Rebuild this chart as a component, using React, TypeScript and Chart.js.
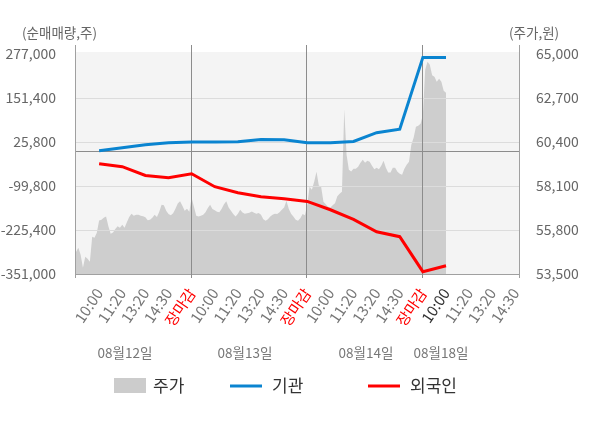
import React, { useEffect, useRef } from 'react';
import { Chart, registerables } from 'chart.js';

Chart.register(...registerables);

// ---- data ----
const sessionLabels = ['10:00', '11:20', '13:20', '14:30'];
const closeLabel = '장마감';
const dayLabels = ['08월12일', '08월13일', '08월14일', '08월18일'];
const leftTicks = [-351000, -225400, -99800, 25800, 151400, 277000];
const rightTicks = [53500, 55800, 58100, 60400, 62700, 65000];

// 기관 / 외국인 cumulative net volume, one value per x label (10:00 day1 ... 10:00 day4)
const institution = [1000, 9500, 18100, 23800, 25800, 26000, 26600, 33200, 32400, 23800, 23800, 27500, 52300, 62300, 267300, 267300];
const foreign = [-36100, -44700, -69900, -75900, -64700, -101800, -118900, -130300, -136000, -143800, -167600, -195000, -230300, -244500, -344400, -327300];

// 주가, sampled ten times per label step
const price = [
  54650, 54875, 54510, 53830, 54400, 54300, 54140, 55450, 55400, 55660,
  56300, 56340, 56440, 56500, 55990, 55610, 55670, 55850, 55990, 55920,
  56080, 55920, 56200, 56480, 56650, 56550, 56600, 56600, 56550, 56520,
  56470, 56310, 56340, 56440, 56600, 56480, 56760, 57120, 57100, 56810,
  56630, 56570, 56680, 56910, 57180, 57300, 57070, 56810, 56910, 56760,
  57490, 57020, 56550, 56500, 56550, 56600, 56730, 56950, 57120, 56900,
  56830, 56760, 56730, 56910, 57150, 57300, 56970, 56810, 56630, 56500,
  56650, 56860, 56720, 56650, 56670, 56700, 56770, 56700, 56650, 56690,
  56600, 56360, 56290, 56360, 56510, 56600, 56650, 56630, 56730, 56860,
  56970, 57330, 56910, 56650, 56500, 56340, 56290, 56420, 56630, 56570,
  57120, 58060, 57910, 58320, 58850, 58120, 58060, 57280, 57150, 57020,
  56970, 57100, 57200, 57570, 57700, 57800, 62100, 59740, 58950, 58860,
  59000, 59000, 59110, 59320, 59470, 59320, 59420, 59370, 59160, 58980,
  59060, 58980, 59160, 59420, 59060, 58800, 58800, 59060, 59060, 58850,
  58740, 58690, 59000, 59210, 59370, 60260, 60620, 61200, 61250, 61360,
  61830, 64180, 64600, 64440, 63890, 63810, 63550, 63710, 63550, 63080,
  62980,
];

const xTickLabels = [
  ...sessionLabels, closeLabel,
  ...sessionLabels, closeLabel,
  ...sessionLabels, closeLabel,
  ...sessionLabels,
];

const FONT = "'Noto Sans CJK KR', 'Noto Sans', sans-serif";
const fmt = (v: number) => Math.round(v).toLocaleString('en-US');

const decor = {
  id: 'decor',
  beforeDraw(chart: any) {
    const { ctx, chartArea: a } = chart;
    ctx.save();
    ctx.fillStyle = '#f4f4f4';
    ctx.fillRect(a.left, a.top - 2, a.right - a.left, a.bottom - a.top + 2);
    ctx.restore();
  },
  afterDatasetDraw(chart: any, args: any) {
    if (args.index !== 0) return;
    const { ctx, chartArea: a, scales } = chart;
    const y = scales.y;
    const x = scales.x;
    ctx.save();
    ctx.lineWidth = 1;
    ctx.strokeStyle = '#dcdcdc';
    leftTicks.slice(1, -1).forEach((t) => {
      const py = Math.round(y.getPixelForValue(t)) + 0.5;
      ctx.beginPath();
      ctx.moveTo(a.left, py);
      ctx.lineTo(a.right, py);
      ctx.stroke();
    });
    ctx.strokeStyle = '#8c8c8c';
    const zy = Math.round(y.getPixelForValue(0)) + 0.5;
    ctx.beginPath();
    ctx.moveTo(a.left, zy);
    ctx.lineTo(a.right, zy);
    ctx.stroke();
    ctx.strokeStyle = '#a0a0a0';
    const by = Math.round(a.bottom) + 0.5;
    ctx.beginPath();
    ctx.moveTo(a.left, by);
    ctx.lineTo(a.right, by);
    ctx.stroke();
    const bounds = [x.min, 5, 10, 15, x.max];
    bounds.forEach((v, i) => {
      const px = Math.round(x.getPixelForValue(v)) - 0.5;
      ctx.strokeStyle = i === 0 || i === bounds.length - 1 ? '#a0a0a0' : '#8c8c8c';
      ctx.beginPath();
      ctx.moveTo(px, a.top - 9);
      ctx.lineTo(px, a.bottom + 4);
      ctx.stroke();
    });
    ctx.restore();
  },
  afterDraw(chart: any) {
    const { ctx } = chart;
    ctx.save();
    ctx.textBaseline = 'middle';
    ctx.fillStyle = '#666';
    ctx.font = `13.5px ${FONT}`;
    ctx.textAlign = 'left';
    ctx.fillText('(순매매량,주)', 22, 33);
    ctx.fillText('(주가,원)', 509, 33);
    ctx.fillStyle = '#777';
    ctx.textAlign = 'center';
    const dayPx = [125, 245, 366, 441];
    dayLabels.forEach((d, i) => ctx.fillText(d, dayPx[i], 353));
    ctx.textAlign = 'left';
    ctx.font = `17px ${FONT}`;
    ctx.fillStyle = '#cccccc';
    ctx.fillRect(114, 378, 32, 15);
    ctx.fillStyle = '#333';
    ctx.fillText('주가', 153, 386);
    ctx.lineWidth = 3;
    ctx.strokeStyle = '#0a84d0';
    ctx.beginPath();
    ctx.moveTo(230, 386);
    ctx.lineTo(262, 386);
    ctx.stroke();
    ctx.fillStyle = '#333';
    ctx.fillText('기관', 272, 386);
    ctx.strokeStyle = '#ff0000';
    ctx.beginPath();
    ctx.moveTo(368, 386);
    ctx.lineTo(400, 386);
    ctx.stroke();
    ctx.fillText('외국인', 410, 386);
    ctx.restore();
  },
};

export default function App() {
  const ref = useRef<HTMLCanvasElement>(null);
  useEffect(() => {
    if (!ref.current) return;
    Chart.defaults.font.family = FONT;
    const chart = new Chart(ref.current, {
      type: 'line',
      data: {
        datasets: [
          {
            label: '주가',
            data: price.map((v, k) => ({ x: k / 10, y: v })),
            yAxisID: 'y1',
            fill: 'start',
            backgroundColor: '#cecece',
            borderWidth: 0,
            pointRadius: 0,
            tension: 0,
            order: 3,
          },
          {
            label: '기관',
            data: institution.map((v, i) => ({ x: i + 1, y: v })),
            yAxisID: 'y',
            borderColor: '#0a84d0',
            borderWidth: 3,
            pointRadius: 0,
            fill: false,
            tension: 0,
            order: 1,
          },
          {
            label: '외국인',
            data: foreign.map((v, i) => ({ x: i + 1, y: v })),
            yAxisID: 'y',
            borderColor: '#ff0000',
            borderWidth: 3,
            pointRadius: 0,
            fill: false,
            tension: 0,
            order: 2,
          },
        ],
      },
      options: {
        animation: false,
        responsive: true,
        maintainAspectRatio: false,
        layout: { padding: { top: 54, left: 0, right: 0, bottom: 0 } },
        plugins: { legend: { display: false }, tooltip: { enabled: false } },
        scales: {
          x: {
            type: 'linear',
            min: 0,
            max: 19.2,
            grid: { display: false },
            border: { display: false },
            afterBuildTicks: (s: any) => {
              s.ticks = xTickLabels.map((_, i) => ({ value: i + 1 }));
            },
            afterFit: (s: any) => {
              s.height = 154;
            },
            ticks: {
              autoSkip: false,
              minRotation: 56,
              maxRotation: 56,
              padding: 3,
              font: { size: 15 },
              color: (c: any) => {
                const v = Math.round(c.tick?.value ?? 0);
                const lab = xTickLabels[v - 1];
                if (lab === closeLabel) return '#ff0000';
                if (v === 16) return '#333333';
                return '#777777';
              },
              callback: (v: any) => xTickLabels[Math.round(Number(v)) - 1] ?? '',
            },
          },
          y: {
            position: 'left',
            min: leftTicks[0],
            max: leftTicks[leftTicks.length - 1],
            grid: { display: false },
            border: { display: false },
            afterBuildTicks: (s: any) => {
              s.ticks = leftTicks.map((v) => ({ value: v }));
            },
            afterFit: (s: any) => {
              s.width = 76;
            },
            ticks: {
              padding: 12,
              color: '#666',
              font: { size: 14 },
              callback: (v: any) => fmt(Number(v)),
            },
          },
          y1: {
            position: 'right',
            min: rightTicks[0],
            max: rightTicks[rightTicks.length - 1],
            grid: { display: false },
            border: { display: false },
            afterBuildTicks: (s: any) => {
              s.ticks = rightTicks.map((v) => ({ value: v }));
            },
            afterFit: (s: any) => {
              s.width = 80;
            },
            ticks: {
              padding: 8,
              color: '#666',
              font: { size: 14 },
              callback: (v: any) => fmt(Number(v)),
            },
          },
        },
      },
      plugins: [decor],
    } as any);
    return () => chart.destroy();
  }, []);
  return (
    <div style={{ position: 'fixed', left: 0, top: 0, width: 600, height: 428, background: '#fff' }}>
      <canvas ref={ref} />
    </div>
  );
}
